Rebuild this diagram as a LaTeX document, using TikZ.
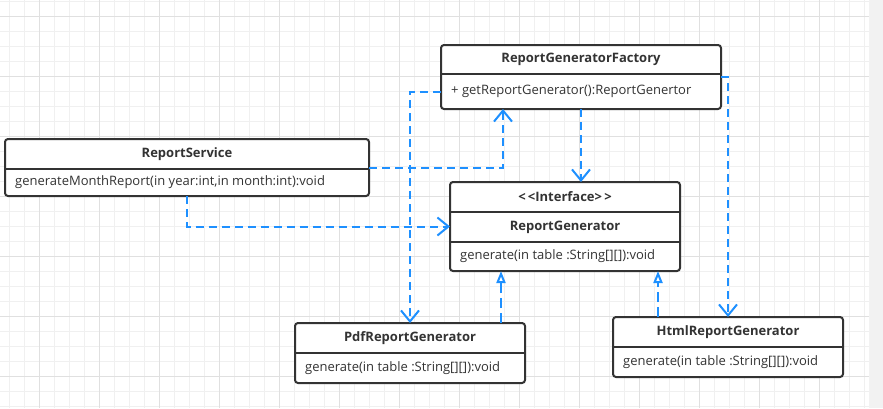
\documentclass[tikz,border=0pt]{standalone}
\usepackage{fontspec}
\setmainfont{Open Sans}
\usetikzlibrary{arrows.meta}
\definecolor{linkblue}{HTML}{1E90FF}
\definecolor{boxgray}{HTML}{333333}
\definecolor{gridminor}{HTML}{F0F0F0}
\definecolor{gridmajor}{HTML}{E0E0E0}
\definecolor{sidegray}{HTML}{F2F2F2}
\begin{document}
\begin{tikzpicture}[x=1pt,y=-1pt,
  umlbox/.style={draw=boxgray,line width=2pt,rounded corners=3pt,fill=white,inner sep=0pt,outer sep=0pt},
  divider/.style={draw=boxgray,line width=2pt},
  title/.style={text=boxgray,font=\fontsize{13}{15}\selectfont\bfseries,inner sep=0pt},
  member/.style={text=boxgray,font=\fontsize{13}{15}\selectfont,inner sep=0pt,anchor=west},
  dep/.style={draw=linkblue,line width=2pt,dash pattern=on 8pt off 5pt,-{Straight Barb[length=11pt,width=18pt]}},
  real/.style={draw=linkblue,line width=2pt,dash pattern=on 10pt off 5pt,-{Triangle[open,length=12pt,width=9pt,fill=white]}}]
\useasboundingbox (0,0) rectangle (883,408);
\fill[white] (0,0) rectangle (869,408);
\fill[sidegray] (869,0) rectangle (883,408);
\foreach \gx in {0,...,57} \draw[gridminor,line width=1pt] ({9.5+15*\gx},0) -- ({9.5+15*\gx},408);
\foreach \gy in {0,...,27} \draw[gridminor,line width=1pt] (0,{1+15*\gy}) -- (869,{1+15*\gy});
\foreach \gx in {0,...,13} \draw[gridmajor,line width=1pt] ({39.5+60*\gx},0) -- ({39.5+60*\gx},408);
\foreach \gy in {0,...,6} \draw[gridmajor,line width=1pt] (0,{16+60*\gy}) -- (869,{16+60*\gy});

\node[umlbox,minimum width=364,minimum height=57] (service) at (187,167.5) {};
\draw[divider] (service.west |- 0,169) -- (service.east |- 0,169);
\node[title] (serviceName) at (service.north |- 0,154) {ReportService};
\node[member] (serviceOp) at ([xshift=10]service.west |- 0,182.5) {generateMonthReport(in year:int,in month:int):void};

\node[umlbox,minimum width=280,minimum height=64] (factory) at (581,77) {};
\draw[divider] (factory.west |- 0,74) -- (factory.east |- 0,74);
\node[title] (factoryName) at (factory.north |- 0,59.5) {ReportGeneratorFactory};
\node[member] (factoryOp) at ([xshift=10]factory.west |- 0,91.5) {+ getReportGenerator():ReportGenertor};

\node[umlbox,minimum width=230,minimum height=89] (iface) at (565,226.5) {};
\draw[divider] (iface.west |- 0,212) -- (iface.east |- 0,212);
\draw[divider] (iface.west |- 0,242) -- (iface.east |- 0,242);
\node[title] (ifaceStereo) at (iface.north |- 0,197) {{<}\,{<}Interface{>}\,{>}};
\node[title] (ifaceName) at (iface.north |- 0,227) {ReportGenerator};
\node[member] (ifaceOp) at ([xshift=10]iface.west |- 0,256.5) {generate(in table :String[][]):void};

\node[umlbox,minimum width=230,minimum height=60] (pdf) at (410,353) {};
\draw[divider] (pdf.west |- 0,353) -- (pdf.east |- 0,353);
\node[title] (pdfName) at (pdf.north |- 0,338) {PdfReportGenerator};
\node[member] (pdfOp) at ([xshift=10]pdf.west |- 0,368) {generate(in table :String[][]):void};

\node[umlbox,minimum width=230,minimum height=60] (html) at (728,347) {};
\draw[divider] (html.west |- 0,347) -- (html.east |- 0,347);
\node[title] (htmlName) at (html.north |- 0,332) {HtmlReportGenerator};
\node[member] (htmlOp) at ([xshift=10]html.west |- 0,362) {generate(in table :String[][]):void};

\draw[dep] (factory.west |- 0,92) -| (pdf.north);
\draw[dep] (factory.south) -- (iface.north -| factory.south);
\draw[dep] (factory.east) -| (html.north);
\draw[dep] (service.east) -| (factory.south -| 503,0);
\draw[dep] (service.south) |- (iface.west);
\draw[real] (pdf.north -| 501,0) -- (iface.south -| 501,0);
\draw[real] (html.north -| 658,0) -- (iface.south -| 658,0);
\end{tikzpicture}
\end{document}
